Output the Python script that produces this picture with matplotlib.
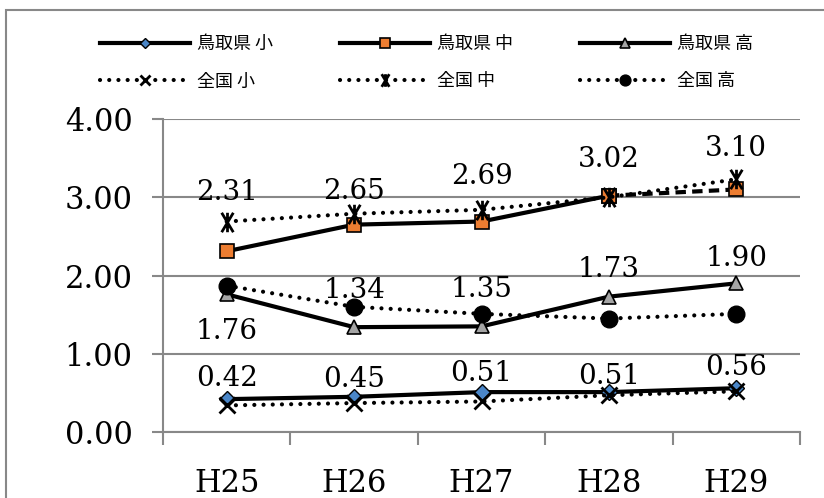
import numpy as np
import matplotlib.pyplot as plt
from matplotlib.path import Path
from matplotlib.patches import Rectangle

# データ
years = ['H25', 'H26', 'H27', 'H28', 'H29']
tottori_sho = [0.42, 0.45, 0.51, 0.51, 0.56]
tottori_chu = [2.31, 2.65, 2.69, 3.02, 3.10]
tottori_ko = [1.76, 1.34, 1.35, 1.73, 1.90]
zenkoku_sho = [0.34, 0.37, 0.39, 0.47, 0.52]
zenkoku_chu = [2.69, 2.79, 2.84, 3.00, 3.23]
zenkoku_ko = [1.87, 1.60, 1.51, 1.45, 1.51]

# ラベルのずらし量（データ単位）
dy_sho = [0.26, 0.22, 0.24, 0.20, 0.27]
dy_chu = [0.75, 0.43, 0.58, 0.46, 0.52]
dy_ko = [-0.47, 0.47, 0.47, 0.35, 0.32]

serif = 'DejaVu Serif'
jp = ['Noto Sans CJK JP', 'DejaVu Sans']

# 全国 中 のマーカー（×＋縦線）
star = Path([(-0.6, -1), (0.6, 1), (-0.6, 1), (0.6, -1), (0, -1), (0, 1)],
            [Path.MOVETO, Path.LINETO, Path.MOVETO, Path.LINETO, Path.MOVETO, Path.LINETO])

x = np.arange(len(years))
dot = (0, (0.01, 2.2))

fig = plt.figure(figsize=(8.24, 4.98), dpi=100)
ax = fig.add_axes([0.1978, 0.1325, 0.7731, 0.6285])

solid = dict(color='black', lw=3, zorder=3)
l1, = ax.plot(x, tottori_sho, marker='D', ms=8, mfc='#4a86c8', mec='black', mew=1,
              label='鳥取県 小', **solid)
l2, = ax.plot(x[:4], tottori_chu[:4], marker='s', ms=10, mfc='#ed7d31', mec='black', mew=1.2,
              label='鳥取県 中', **solid)
ax.plot(x[3:], tottori_chu[3:], marker='s', ms=10, mfc='#ed7d31', mec='black', mew=1.2,
        color='black', lw=3, ls=(0, (2.5, 1.5)), zorder=3)
l3, = ax.plot(x, tottori_ko, marker='^', ms=10, mfc='#a5a5a5', mec='black', mew=1.2,
              label='鳥取県 高', **solid)

dotted = dict(color='black', lw=3, ls=dot, dash_capstyle='round', zorder=4)
l4, = ax.plot(x, zenkoku_sho, marker='x', ms=11, mec='black', mew=2, label='全国 小', **dotted)
l5, = ax.plot(x, zenkoku_chu, marker=star, ms=14, mfc='none', mec='black', mew=2,
              label='全国 中', **dotted)
l6, = ax.plot(x, zenkoku_ko, marker='o', ms=12, mfc='black', mec='black', label='全国 高', **dotted)

# データラベル
for vals, dys in [(tottori_sho, dy_sho), (tottori_chu, dy_chu), (tottori_ko, dy_ko)]:
    for xi, v, d in zip(x, vals, dys):
        ax.text(xi, v + d, f'{v:.2f}', ha='center', va='center',
                fontsize=20, family=serif, zorder=6)

ax.set_xlim(-0.5, 4.5)
ax.set_ylim(0, 4)
ax.set_yticks([0, 1, 2, 3, 4])
ax.set_yticklabels([f'{v:.2f}' for v in [0, 1, 2, 3, 4]], family=serif, fontsize=22)
ax.set_xticks(x)
ax.set_xticklabels(years, family=serif, fontsize=22)
ax.set_xticks(np.arange(-0.5, 5, 1), minor=True)
ax.tick_params(axis='x', which='major', length=0, pad=26)
ax.tick_params(axis='x', which='minor', length=9, width=1.5, color='#888888', direction='out')
ax.tick_params(axis='y', length=8, width=1.5, color='#888888', direction='out', pad=14)

ax.grid(axis='y', color='#888888', lw=1.5)
ax.set_axisbelow(True)
for s in ['top', 'right']:
    ax.spines[s].set_visible(False)
for s in ['left', 'bottom']:
    ax.spines[s].set_color('#888888')
    ax.spines[s].set_linewidth(1.5)

leg = fig.legend([l1, l4, l2, l5, l3, l6],
                 ['鳥取県 小', '全国 小', '鳥取県 中', '全国 中', '鳥取県 高', '全国 高'],
                 ncol=3, loc='upper left', bbox_to_anchor=(0.102, 0.962),
                 frameon=False, prop={'family': jp, 'size': 13},
                 handlelength=4.98, handletextpad=0.4, columnspacing=3.7,
                 labelspacing=1.07, markerscale=0.65)

# 外枠
fig.patches.append(Rectangle((6 / 824, -0.1), 1.2, 0.98 + 0.1, transform=fig.transFigure,
                             fill=False, edgecolor='#888888', lw=1.5))

fig.savefig('out.png', dpi=100)
